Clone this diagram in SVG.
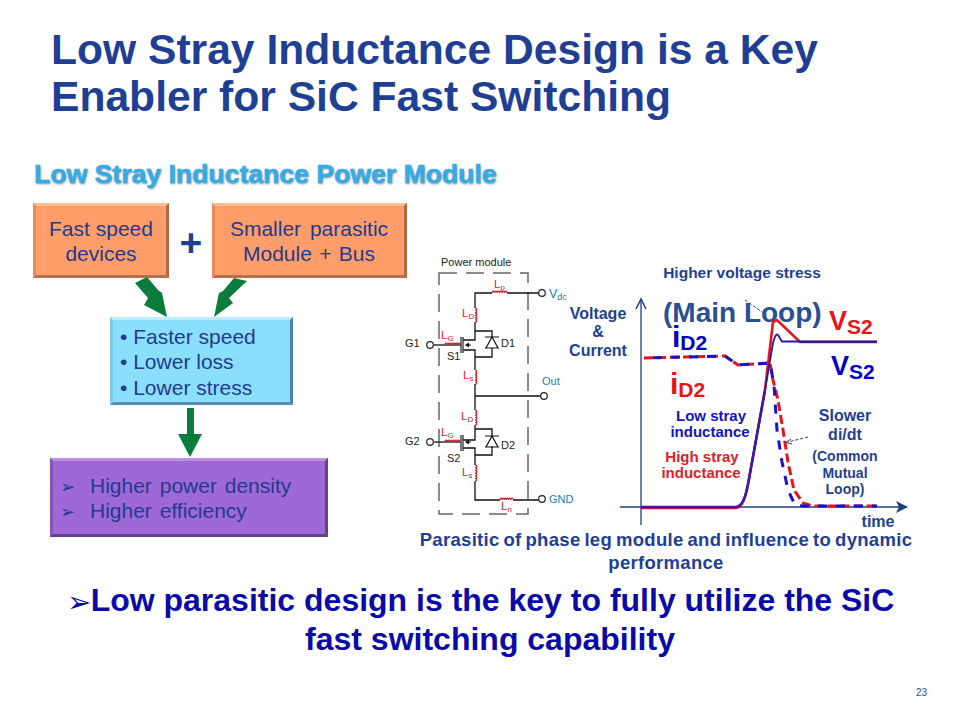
<svg xmlns="http://www.w3.org/2000/svg" width="960" height="720" viewBox="0 0 960 720">
<style>
text{font-family:"Liberation Sans",Arial,sans-serif}
.title{font-size:42.6px;font-weight:bold;fill:#1f3f94}
.box{font-size:21px;fill:#253a8c;text-anchor:middle}
.boxl{font-size:21px;fill:#253a8c}
.w{fill:none;stroke:#111;stroke-width:1.3}
.ind{fill:none;stroke:#d0202a;stroke-width:1.2}
.term{fill:#fff;stroke:#222;stroke-width:1.2}
.k{font-size:11px;fill:#222}
.lr{font-size:11.5px;fill:#d8262c}
.ls{font-size:8px;fill:#d8262c}
.lb{font-size:11px;fill:#2a7ab8}
.nb{font-size:16px;font-weight:bold;fill:#1f3f94;text-anchor:middle}
.cap{font-size:18.5px;font-weight:bold;fill:#1f3f94;text-anchor:middle;letter-spacing:.3px;word-spacing:-1.5px}
.big{font-size:27px;font-weight:bold;fill:#0000c8}
.bigr{font-size:27px;font-weight:bold;fill:#e8141c}
.sub{font-size:21px;font-weight:bold}
.tag{font-size:15px;font-weight:bold;text-anchor:middle}
.tag2{font-size:14px;font-weight:bold;text-anchor:middle;fill:#1f3f94}
.low{font-size:32px;font-weight:bold;fill:#0a0aa8;text-anchor:middle}
</style>
<defs>
<filter id="sh" x="-5%" y="-20%" width="110%" height="150%"><feGaussianBlur stdDeviation="1.2"/></filter>
<marker id="ah" markerWidth="14" markerHeight="14" refX="11" refY="6" orient="auto" markerUnits="userSpaceOnUse"><path d="M0 0L12 6L0 12L3 6Z" fill="#1f3f7a"/></marker>
<marker id="ao" markerWidth="14" markerHeight="14" refX="9" refY="6" orient="auto" markerUnits="userSpaceOnUse"><path d="M0 1L10 6L0 11" fill="none" stroke="#1f3f7a" stroke-width="1.5"/></marker>
</defs>
<rect width="960" height="720" fill="#fff"/>
<text class="title" x="51" y="64">Low Stray Inductance Design is a Key</text>
<text class="title" x="51" y="111">Enabler for SiC Fast Switching</text>
<g id="heading">
<text x="35" y="184" fill="#7a8a96" filter="url(#sh)" font-size="26.600" font-weight="bold">Low Stray Inductance Power Module</text>
<text x="34" y="183" fill="#35ace6" stroke="#35ace6" stroke-width=".5" font-size="26.600" font-weight="bold">Low Stray Inductance Power Module</text>
</g>

<g id="node-fast">
<rect x="33" y="203" width="136" height="75" fill="#ff9e6b"/>
<path d="M33 203H169L166 206H36Z" fill="#ffbd98"/><path d="M33 278H169L166 275H36Z" fill="#b8704a"/><path d="M33 203V278L36 275V206Z" fill="#e88d58"/><path d="M169 203V278L166 275V206Z" fill="#b06a42"/>
<text class="box" x="101" y="236">Fast speed</text><text class="box" x="101" y="261">devices</text>
</g>
<g id="node-plus"><text x="191" y="256" font-size="39" font-weight="bold" fill="#1f3f94" text-anchor="middle">+</text></g>
<g id="node-small">
<rect x="212" y="203" width="195" height="75" fill="#ff9e6b"/>
<path d="M212 203H407L404 206H215Z" fill="#ffbd98"/><path d="M212 278H407L404 275H215Z" fill="#b8704a"/><path d="M212 203V278L215 275V206Z" fill="#e88d58"/><path d="M407 203V278L404 275V206Z" fill="#b06a42"/>
<text class="box" x="309" y="236" word-spacing="3">Smaller parasitic</text><text class="box" x="309" y="261" word-spacing="1.500">Module + Bus</text>
</g>
<g id="node-result">
<rect x="110" y="317" width="183" height="88" fill="#8adfff"/>
<path d="M110 317H293L290 320H113Z" fill="#bdeeff"/><path d="M110 405H293L290 402H113Z" fill="#558fab"/><path d="M110 317V405L113 402V320Z" fill="#7ccbec"/><path d="M293 317V405L290 402V320Z" fill="#4a86a4"/>
<text class="boxl" x="120" y="344">• Faster speed</text><text class="boxl" x="120" y="369">• Lower loss</text><text class="boxl" x="120" y="395">• Lower stress</text>
</g>
<g id="node-benefit">
<rect x="50" y="458" width="278" height="79" fill="#9e68d8"/>
<path d="M50 458H328L325 461H53Z" fill="#bc8fe0"/><path d="M50 537H328L325 534H53Z" fill="#64408a"/><path d="M50 458V537L53 534V461Z" fill="#8a52bd"/><path d="M328 458V537L325 534V461Z" fill="#64408a"/>
<text class="boxl" x="60" y="493" style="font-size:18px">➢</text><text class="boxl" x="90" y="493" word-spacing="2">Higher power density</text>
<text class="boxl" x="60" y="518" style="font-size:18px">➢</text><text class="boxl" x="90" y="518" word-spacing="2">Higher efficiency</text>
</g>

<g id="block-connectors" fill="#0a7d3c">
<polygon points="135,283 147,277 158,290 162,293 167,317 144,305 148,298"/>
<polygon points="234,278 247,281 229,298 233,303 214,317 219,293 223,291"/>
<polygon points="187,408 194,408 194,434 202,434 190,457 178,434 187,434"/>
</g>

<g id="circuit">
<path d="M439 273H528V514H439Z" fill="none" stroke="#666" stroke-width="1.5" stroke-dasharray="18 9"/>
<text class="k" x="441" y="266">Power module</text>
<path class="w" d="M539 293H507M492 293H475V308M475 322V340H463M475 331H492V337M492 348V357H475V350H463M475 357V370M475 384V410M475 396H541M475 425V440H463M475 429H492V436M492 446V455H475V448H463M475 455V465M475 481V500H500M513 500H539"/>
<path d="M461 337V353M463 337V353M434 345H461M461 435V451M463 435V451M434 442H461" fill="none" stroke="#333" stroke-width="1.300"/>
<path d="M471 345H466M471 442H466" stroke="#111" stroke-width="1"/><path d="M465 345L469 342.500V347.500Z" fill="#111"/><path d="M465 442L469 439.500V444.500Z" fill="#111"/>
<path d="M485 337H499M485 348H499M492 337L486 348H498Z" fill="none" stroke="#111" stroke-width="1.200"/>
<path d="M485 436H499M485 447H499M492 436L486 447H498Z" fill="none" stroke="#111" stroke-width="1.200"/>
<path class="ind" d="M492 293a1.250 1.800 0 0 1 2.500 0a1.250 1.800 0 0 1 2.500 0a1.250 1.800 0 0 1 2.500 0a1.250 1.800 0 0 1 2.500 0a1.250 1.800 0 0 1 2.500 0a1.250 1.800 0 0 1 2.500 0"/>
<path class="ind" d="M445 345a1.250 1.800 0 0 1 2.500 0a1.250 1.800 0 0 1 2.500 0a1.250 1.800 0 0 1 2.500 0a1.250 1.800 0 0 1 2.500 0a1.250 1.800 0 0 1 2.500 0a1.250 1.800 0 0 1 2.500 0"/>
<path class="ind" d="M445 442a1.250 1.800 0 0 1 2.500 0a1.250 1.800 0 0 1 2.500 0a1.250 1.800 0 0 1 2.500 0a1.250 1.800 0 0 1 2.500 0a1.250 1.800 0 0 1 2.500 0a1.250 1.800 0 0 1 2.500 0"/>
<path class="ind" d="M500 500a1.100 1.800 0 0 1 2.200 0a1.100 1.800 0 0 1 2.200 0a1.100 1.800 0 0 1 2.200 0a1.100 1.800 0 0 1 2.200 0a1.100 1.800 0 0 1 2.200 0a1.100 1.800 0 0 1 2.200 0"/>
<path class="ind" d="M475 308a1.800 1.200 0 0 1 0 2.400a1.800 1.200 0 0 1 0 2.400a1.800 1.200 0 0 1 0 2.400a1.800 1.200 0 0 1 0 2.400a1.800 1.200 0 0 1 0 2.400a1.800 1.200 0 0 1 0 2.400"/>
<path class="ind" d="M475 370a1.800 1.200 0 0 1 0 2.400a1.800 1.200 0 0 1 0 2.400a1.800 1.200 0 0 1 0 2.400a1.800 1.200 0 0 1 0 2.400a1.800 1.200 0 0 1 0 2.400a1.800 1.200 0 0 1 0 2.400"/>
<path class="ind" d="M475 410a1.800 1.250 0 0 1 0 2.500a1.800 1.250 0 0 1 0 2.500a1.800 1.250 0 0 1 0 2.500a1.800 1.250 0 0 1 0 2.500a1.800 1.250 0 0 1 0 2.500a1.800 1.250 0 0 1 0 2.500"/>
<path class="ind" d="M475 465a1.800 1.350 0 0 1 0 2.700a1.800 1.350 0 0 1 0 2.700a1.800 1.350 0 0 1 0 2.700a1.800 1.350 0 0 1 0 2.700a1.800 1.350 0 0 1 0 2.700a1.800 1.350 0 0 1 0 2.700"/>
<circle class="term" cx="542" cy="293" r="3.300"/><circle class="term" cx="544" cy="396" r="3.300"/><circle class="term" cx="542" cy="499" r="3.300"/><circle class="term" cx="430" cy="345" r="3.300"/><circle class="term" cx="430" cy="442" r="3.300"/>
<text class="k" x="405" y="347">G1</text><text class="k" x="405" y="445">G2</text><text class="k" x="447" y="360">S1</text><text class="k" x="447" y="462">S2</text><text class="k" x="501" y="347">D1</text><text class="k" x="501" y="449">D2</text>
<text class="lb" x="549" y="298" style="font-size:12.500px">V<tspan font-size="9" dy="2">dc</tspan></text><text class="lb" x="542" y="385">Out</text><text class="lb" x="549" y="503">GND</text>
<text class="lr" x="494" y="288">L<tspan class="ls" dy="2">p</tspan></text><text class="lr" x="462" y="317">L<tspan class="ls" dy="2">D</tspan></text><text class="lr" x="441" y="339">L<tspan class="ls" dy="2">G</tspan></text><text class="lr" x="463" y="379">L<tspan class="ls" dy="2">s</tspan></text>
<text class="lr" x="461" y="420">L<tspan class="ls" dy="2">D</tspan></text><text class="lr" x="441" y="436">L<tspan class="ls" dy="2">G</tspan></text><text class="lr" x="462" y="476">L<tspan class="ls" dy="2">s</tspan></text><text class="lr" x="501" y="510">L<tspan class="ls" dy="2">n</tspan></text>
</g>

<g id="chart">
<path d="M620 507H907" fill="none" stroke="#1f3f7a" stroke-width="1.300" marker-end="url(#ah)"/>
<path d="M641 525V300" fill="none" stroke="#1f3f7a" stroke-width="1.300" marker-end="url(#ao)"/>
<text class="nb" x="742" y="278" style="font-size:15.500px">Higher voltage stress</text>
<text x="663" y="322" font-size="28" font-weight="bold" fill="#2a4f92">(Main Loop)</text>
<path d="M745 300L762 312" fill="none" stroke="#1f3f7a" stroke-width="1" stroke-dasharray="3 2"/>
<text class="nb" x="598" y="319">Voltage</text><text class="nb" x="598" y="337">&amp;</text><text class="nb" x="598" y="356">Current</text>
<path d="M644 358L725 356L738 365L770 363L773 380L778 400L783 430L788 462L794 490L803 503L812 506H877" fill="none" stroke="#e8141c" stroke-width="3" stroke-dasharray="9 4" stroke-linejoin="round"/>
<path d="M644 358L725 356L738 365L770 363L774 385L777 430L782 462L788 490L795 505L803 506H877" fill="none" stroke="#1414c8" stroke-width="3" stroke-dasharray="9 9" stroke-dashoffset="9" stroke-linejoin="round"/>
<path d="M641 508H736C742 507 745 500 748 485L765 390L773 322L777 320L800 342H877" fill="none" stroke="#e8141c" stroke-width="2.600"/>
<path d="M641 507H736C742 506 745 499 748 484L765 390L773 343Q776 332 778 335L782 341.500H877" fill="none" stroke="#2a1aa8" stroke-width="1.800"/>
<path d="M800 342H877" stroke="#3a1a90" stroke-width="2.200" fill="none"/>
<path d="M641 507H736C742 506 745 499 748 484L765 390" stroke="#3a1aa8" stroke-width="2.400" fill="none"/>
<text class="big" x="672" y="347" style="font-size:30px">i<tspan class="sub" dy="3">D2</tspan></text>
<text class="bigr" x="670" y="394" style="font-size:30px">i<tspan class="sub" dy="3">D2</tspan></text>
<text class="bigr" x="829" y="330">V<tspan class="sub" dy="4">S2</tspan></text>
<text class="big" x="831" y="375">V<tspan class="sub" dy="4">S2</tspan></text>
<text class="tag" x="711" y="421" fill="#1414c0">Low stray</text><text class="tag" x="710" y="437" fill="#1414c0">inductance</text>
<text class="tag" x="702" y="462" fill="#e0202a">High stray</text><text class="tag" x="701" y="478" fill="#e0202a">inductance</text>
<text class="nb" x="845" y="421">Slower</text><text class="nb" x="845" y="440">di/dt</text>
<text class="tag2" x="845" y="461">(Common</text><text class="tag2" x="845" y="478">Mutual</text><text class="tag2" x="845" y="494">Loop)</text>
<path d="M808 437L788 442" fill="none" stroke="#1f3f7a" stroke-width="1" stroke-dasharray="3 2"/><path d="M791 439L786 442.500L792 444" fill="none" stroke="#1f3f7a"/>
<text class="nb" x="878" y="527">time</text>
<text class="cap" x="666" y="546">Parasitic of phase leg module and influence to dynamic</text>
<text class="cap" x="666" y="569">performance</text>
</g>

<g id="conclusion">
<text x="67" y="612" font-size="29" font-weight="bold" fill="#0a0aa8" style="font-family:'DejaVu Sans',sans-serif">➢</text>
<text class="low" x="492.500" y="611">Low parasitic design is the key to fully utilize the SiC</text>
<text class="low" x="490" y="650">fast switching capability</text>
</g>
<text x="916" y="696" font-size="10" fill="#2a4f92">23</text>
</svg>
